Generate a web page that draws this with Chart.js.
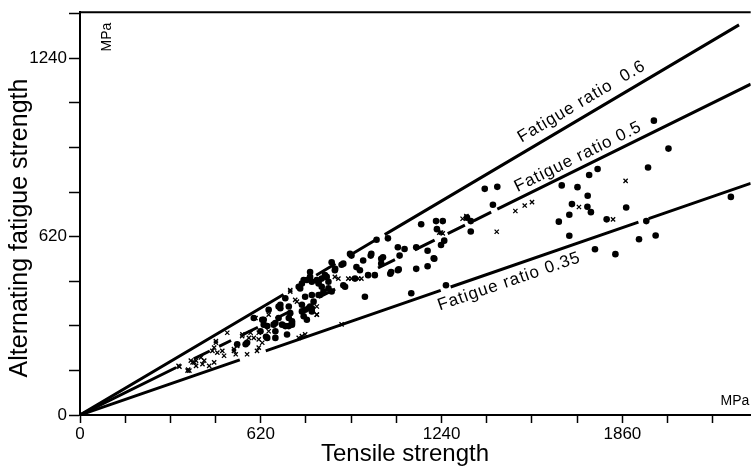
<!DOCTYPE html>
<html>
<head>
<meta charset="utf-8">
<script src="https://cdn.jsdelivr.net/npm/chart.js@4.4.0/dist/chart.umd.min.js"></script>
<style>
  html, body { margin: 0; padding: 0; background: #fff; }
  #wrap { width: 756px; height: 470px; }
</style>
</head>
<body>
<div id="wrap"><canvas id="fatigueChart" width="756" height="470"></canvas></div>
<script>
// data (MPa)
const dotTensile = [
  1968, 2018, 1948, 1775, 1746, 1652, 1706, 1741, 1687, 1740, 1752, 1678, 1642, 1678,
  1873, 1806, 1766, 1836, 1917, 1974, 1942, 2232, 1388, 1431, 1416, 1340, 1327, 1340,
  1221, 1244, 1224, 1249, 1238, 1213, 1255, 1170, 1192, 1215, 1153, 1153, 1192, 1090,
  1096, 1064, 1093, 1056, 1017, 997, 1033, 1011, 971, 948, 960, 943, 926, 897, 875,
  903, 852, 852, 835, 863, 823, 801, 789, 795, 789, 778, 812, 829, 846, 818, 750, 761,
  755, 795, 784, 772, 767, 778, 772, 704, 716, 721, 727, 716, 687, 681, 664, 670, 710,
  647, 625, 630, 619, 596, 539, 568, 1113, 1090, 1067, 1039, 1033, 999, 977, 1136, 931,
  903, 988, 909, 874, 863, 840, 789, 795, 818, 761, 573, 638, 642, 630, 767, 818, 829,
  795, 687, 716, 704, 727, 642, 670, 693, 727, 681, 761, 670
];
const dotFatigue = [
  1023, 926, 860, 855, 834, 798, 792, 762, 733, 724, 705, 696, 672, 623,
  721, 680, 576, 559, 611, 624, 674, 758, 786, 793, 731, 638, 686, 674,
  674, 674, 646, 606, 591, 545, 451, 663, 571, 543, 583, 508, 517, 583,
  554, 491, 506, 614, 609, 554, 543, 486, 537, 514, 503, 474, 560, 522, 508,
  451, 463, 440, 429, 429, 417, 394, 377, 360, 480, 469, 469, 474, 480, 457, 446, 457,
  440, 417, 371, 366, 343, 331, 411, 406, 377, 354, 326, 309, 383, 337, 314, 291, 280,
  366, 331, 314, 291, 337, 246, 246, 577, 503, 497, 548, 526, 560, 411, 423, 554,
  526, 486, 446, 503, 531, 486, 497, 463, 417, 383, 251, 272, 268, 331, 469, 463, 446,
  371, 371, 337, 309, 314, 309, 320, 314, 320, 377, 360, 268
];
const crossTensile = [
  1711, 1871, 1828, 1429, 1493, 1525, 1550, 1312, 1244, 1325, 920, 874, 338, 375, 386,
  398, 466, 505, 528, 539, 613, 613, 721, 761, 341, 371, 380, 415, 443, 466, 488, 528,
  556, 573, 607, 625, 750, 897, 812, 965, 1238, 738, 647, 557, 392, 398, 420, 426, 460,
  454, 471, 460, 494, 534, 579, 585, 596, 613, 619, 647, 602, 369, 772, 886, 931, 954,
  812, 812, 744, 721, 1232
];
const crossFatigue = [
  723, 814, 680, 637, 709, 728, 740, 682, 631, 691, 474, 480, 171, 154, 183,
  189, 257, 286, 223, 240, 234, 286, 429, 274, 168, 158, 189, 200, 171, 251, 223, 229,
  274, 211, 223, 251, 268, 315, 349, 474, 634, 400, 349, 280, 183, 171, 177, 189, 183,
  223, 217, 234, 206, 211, 268, 286, 268, 263, 291, 291, 337, 154, 280, 474, 474, 474,
  377, 349, 394, 434, 634
];

// fatigue ratio lines and the stretches where they are drawn
const ratioValues = [0.6, 0.5, 0.35];
const ratioLabels = ['Fatigue ratio  0.6', 'Fatigue ratio 0.5', 'Fatigue ratio 0.35'];
const ratioSegments = [
  [[0, 698], [810, 876], [937, 1022], [1045, 2260]],
  [[0, 330], [390, 445], [477, 518], [560, 610], [671, 726], [818, 875], [1022, 1080],
   [1148, 1216], [1261, 1320], [1350, 1410], [1431, 2300]],
  [[0, 548], [637, 1237], [1271, 1915], [1950, 2300]]
];
const labelTensile = [1745, 1725, 1456];
const labelOffset = [-14, -11, 14];

// tick marks every 155 MPa, numbers every 620
const tickStep = 155;
const xTicks = [0, 620, 1240, 1860];
const yTicks = [0, 620, 1240];

const FONT = "'Liberation Sans', Arial, sans-serif";

function ratioLine(ratio, segs) {
  const pts = [];
  segs.forEach(([a, b]) => {
    pts.push({ x: a, y: ratio * a }, { x: b, y: ratio * b }, { x: b, y: null });
  });
  return pts;
}

function stepTicks(scale) {
  const out = [];
  for (let v = 0; v <= scale.max; v += tickStep) out.push({ value: v });
  scale.ticks = out;
}

function tickLabel(list) {
  return v => {
    const r = Math.round(v);
    return list.includes(r) ? String(r) : '';
  };
}

const lineSets = ratioValues.map((r, i) => ({
  type: 'line',
  data: ratioLine(r, ratioSegments[i]),
  borderColor: '#000',
  borderWidth: 3,
  pointRadius: 0,
  spanGaps: false,
  fill: false
}));

const dotSet = {
  type: 'scatter',
  data: dotTensile.map((x, i) => ({ x, y: dotFatigue[i] })),
  pointStyle: 'circle',
  pointRadius: 3.3,
  backgroundColor: '#000',
  borderColor: '#000',
  borderWidth: 0
};

const crossSet = {
  type: 'scatter',
  data: crossTensile.map((x, i) => ({ x, y: crossFatigue[i] })),
  pointStyle: 'crossRot',
  pointRadius: 3,
  borderColor: '#000',
  borderWidth: 1.3
};

// top frame line, units, axis titles, ratio labels
const annotate = {
  id: 'annotate',
  afterDraw(chart) {
    const { ctx, chartArea, scales: { x, y } } = chart;
    ctx.save();
    ctx.strokeStyle = '#000';
    ctx.lineWidth = 2;
    ctx.beginPath();
    ctx.moveTo(chartArea.left - 1, chartArea.top);
    ctx.lineTo(chartArea.right, chartArea.top);
    ctx.stroke();

    ctx.fillStyle = '#000';
    ctx.textAlign = 'center';
    ctx.textBaseline = 'middle';

    ctx.font = '24px ' + FONT;
    ctx.fillText('Tensile strength', 405, 454);

    ctx.save();
    ctx.translate(20, 228);
    ctx.rotate(-Math.PI / 2);
    ctx.font = '25px ' + FONT;
    ctx.fillText('Alternating fatigue strength', 0, 0);
    ctx.restore();

    ctx.font = '14px ' + FONT;
    ctx.fillText('MPa', 735, 401);
    ctx.save();
    ctx.translate(107, 37);
    ctx.rotate(-Math.PI / 2);
    ctx.fillText('MPa', 0, 0);
    ctx.restore();

    ctx.font = '17px ' + FONT;
    ctx.letterSpacing = '1px';
    ratioValues.forEach((r, i) => {
      const t = labelTensile[i];
      const px = x.getPixelForValue(t);
      const py = y.getPixelForValue(r * t);
      const ang = Math.atan2(y.getPixelForValue(r * 2000) - y.getPixelForValue(0),
                             x.getPixelForValue(2000) - x.getPixelForValue(0));
      ctx.save();
      ctx.translate(px, py);
      ctx.rotate(ang);
      ctx.fillText(ratioLabels[i], 0, labelOffset[i]);
      ctx.restore();
    });
    ctx.restore();
  }
};

new Chart(document.getElementById('fatigueChart'), {
  data: { datasets: [...lineSets, dotSet, crossSet] },
  options: {
    responsive: false,
    animation: false,
    devicePixelRatio: 1,
    layout: { padding: { top: 6, right: 0, bottom: 0, left: 0 } },
    plugins: { legend: { display: false }, tooltip: { enabled: false } },
    scales: {
      x: {
        type: 'linear',
        min: 0,
        max: 2300,
        afterBuildTicks: stepTicks,
        afterFit(scale) { scale.height = 55; },
        border: { display: true, color: '#000', width: 2 },
        grid: { drawOnChartArea: false, drawTicks: true, tickLength: 8, color: '#000', tickWidth: 1.5 },
        ticks: {
          autoSkip: false,
          maxRotation: 0,
          padding: 1,
          color: '#000',
          font: { family: FONT, size: 17 },
          callback: tickLabel(xTicks)
        }
      },
      y: {
        type: 'linear',
        min: 0,
        max: 1400,
        afterBuildTicks: stepTicks,
        afterFit(scale) { scale.width = 80; },
        border: { display: true, color: '#000', width: 2 },
        grid: { drawOnChartArea: false, drawTicks: true, tickLength: 11, color: '#000', tickWidth: 1.5 },
        ticks: {
          autoSkip: false,
          padding: 2,
          color: '#000',
          font: { family: FONT, size: 17 },
          callback: tickLabel(yTicks)
        }
      }
    }
  },
  plugins: [annotate]
});
</script>
</body>
</html>
